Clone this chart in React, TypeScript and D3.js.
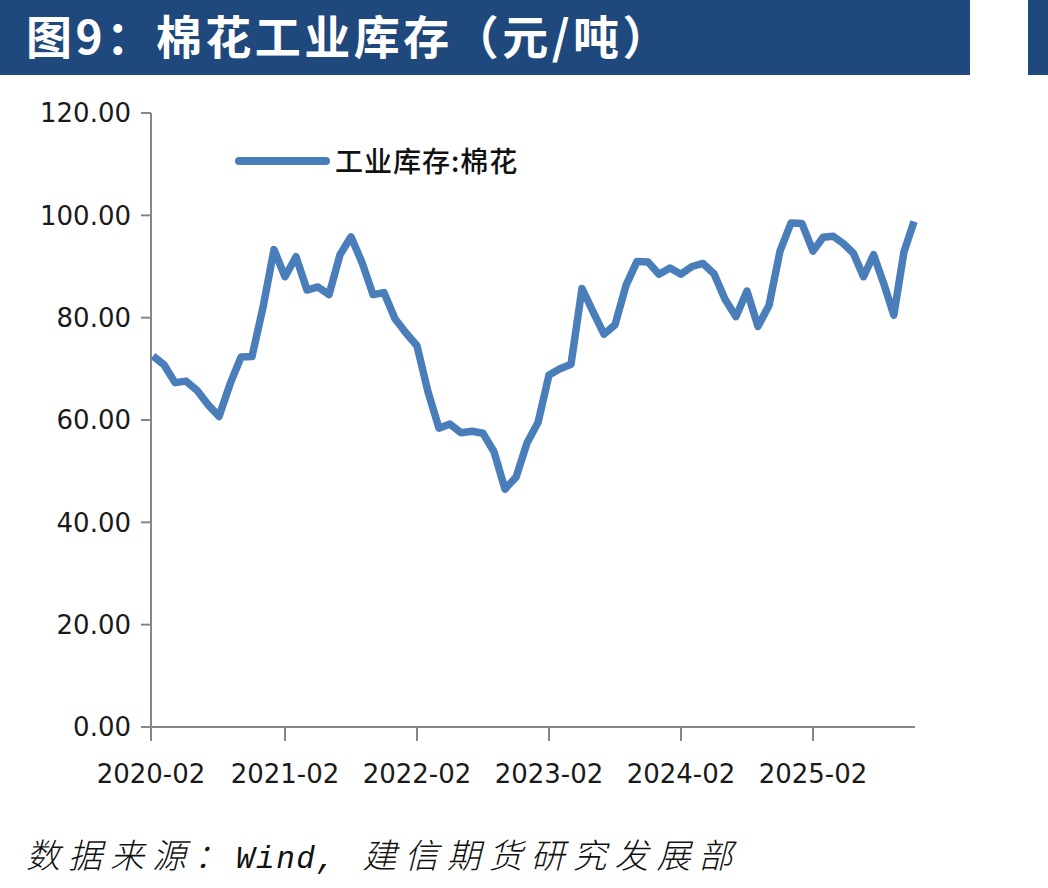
import React, { useEffect } from "react";
import * as d3 from "d3";

// Monthly observations, 2020-02 .. 2025-12
const months: string[] = [
  "2020-02","2020-03","2020-04","2020-05","2020-06","2020-07","2020-08","2020-09","2020-10","2020-11","2020-12",
  "2021-01","2021-02","2021-03","2021-04","2021-05","2021-06","2021-07","2021-08","2021-09","2021-10","2021-11","2021-12",
  "2022-01","2022-02","2022-03","2022-04","2022-05","2022-06","2022-07","2022-08","2022-09","2022-10","2022-11","2022-12",
  "2023-01","2023-02","2023-03","2023-04","2023-05","2023-06","2023-07","2023-08","2023-09","2023-10","2023-11","2023-12",
  "2024-01","2024-02","2024-03","2024-04","2024-05","2024-06","2024-07","2024-08","2024-09","2024-10","2024-11","2024-12",
  "2025-01","2025-02","2025-03","2025-04","2025-05","2025-06","2025-07","2025-08","2025-09","2025-10","2025-11","2025-12",
];

const inventory: number[] = [
  72.5, 70.8, 67.3, 67.6, 65.8, 63.0, 60.7, 67.0, 72.3, 72.4, 82.0,
  93.3, 88.0, 91.9, 85.4, 86.0, 84.5, 92.3, 95.8, 90.8, 84.5, 84.9, 79.8,
  77.0, 74.5, 65.5, 58.4, 59.2, 57.5, 57.8, 57.4, 53.8, 46.5, 48.8, 55.5,
  59.5, 68.8, 70.0, 70.9, 85.7, 81.2, 76.8, 78.6, 86.3, 91.0, 90.9, 88.5,
  89.7, 88.5, 90.0, 90.6, 88.6, 83.6, 80.2, 85.2, 78.3, 82.4,
  93.0, 98.5, 98.4, 93.0, 95.7, 95.9, 94.5, 92.6, 88.0, 92.3, 86.7, 80.5, 92.8, 98.8,
];

const yTicks: number[] = [0, 20, 40, 60, 80, 100, 120];
const xTickLabels: string[] = ["2020-02", "2021-02", "2022-02", "2023-02", "2024-02", "2025-02"];
const seriesName = "工业库存:棉花";
const title = "图9：棉花工业库存（元/吨）";

const HEADER = "#1F497D";
const LINE = "#4A7EBB";
const AXIS = "#868686";

export default function App() {
  useEffect(() => {
    document.body.style.margin = "0";
  }, []);

  const left = 151;
  const right = 914;
  const top = 113;
  const bottom = 727;

  // the last ten months are plotted slightly denser in the source chart
  const lastTick = months.indexOf("2025-02");
  const x = d3
    .scaleLinear()
    .domain([0, lastTick, months.length - 1])
    .range([153, 153 + lastTick * 11, right]);
  const y = d3.scaleLinear().domain([0, 120]).range([bottom, top]);

  const line = d3
    .line<number>()
    .x((_, i) => x(i))
    .y((d) => y(d))
    .curve(d3.curveLinear);

  const path = line(inventory) || "";

  return (
    <svg
      width={1048}
      height={888}
      style={{ position: "absolute", left: 0, top: 0, background: "#fff" }}
    >
      <rect x={0} y={0} width={1048} height={888} fill="#fff" />
      {/* header */}
      <rect x={0} y={0} width={970} height={75} fill={HEADER} />
      <rect x={1028} y={0} width={20} height={75} fill={HEADER} />
      <text
        x={26}
        y={54}
        fill="#fff"
        fontFamily="'Noto Sans CJK SC', sans-serif"
        fontWeight={700}
        fontSize={46}
        letterSpacing={3.5}
      >
        {title}
      </text>

      {/* y axis */}
      <line x1={left} x2={left} y1={top} y2={bottom} stroke={AXIS} strokeWidth={2} />
      {yTicks.map((t) => (
        <g key={t}>
          <line x1={left - 10} x2={left} y1={y(t)} y2={y(t)} stroke={AXIS} strokeWidth={2} />
          <text
            x={131}
            y={y(t)}
            dy="0.36em"
            textAnchor="end"
            fontFamily="'DejaVu Sans', sans-serif"
            fontSize={26}
            fill="#1a1a1a"
          >
            {t.toFixed(2)}
          </text>
        </g>
      ))}

      {/* x axis */}
      <line x1={left} x2={right + 1} y1={bottom} y2={bottom} stroke={AXIS} strokeWidth={2} />
      {xTickLabels.map((lab, k) => {
        const i = months.indexOf(lab);
        const xp = k === 0 ? left : x(i);
        return (
          <g key={lab}>
            <line x1={xp} x2={xp} y1={bottom} y2={bottom + 14} stroke={AXIS} strokeWidth={2} />
            <text
              x={xp}
              y={783}
              textAnchor="middle"
              fontFamily="'DejaVu Sans', sans-serif"
              fontSize={26}
              fill="#1a1a1a"
            >
              {lab}
            </text>
          </g>
        );
      })}

      {/* series */}
      <path d={path} fill="none" stroke={LINE} strokeWidth={7.5} strokeLinejoin="round" strokeLinecap="butt" />

      {/* legend */}
      <line x1={239} x2={326} y1={161} y2={161} stroke={LINE} strokeWidth={8} strokeLinecap="round" />
      <text
        x={335}
        y={162}
        dy="0.36em"
        fontFamily="'Noto Sans CJK SC', sans-serif"
        fontWeight={500}
        fontSize={28}
        letterSpacing={1}
        fill="#111"
      >
        {seriesName}
      </text>

      {/* source */}
      <text x={26} y={868} fill="#111" fontStyle="italic" fontSize={34}>
        <tspan fontFamily="'Noto Sans CJK SC', sans-serif" fontWeight={300} letterSpacing={8}>
          数据来源：
        </tspan>
        <tspan fontFamily="'Liberation Mono', monospace" fontSize={31} letterSpacing={1.5}>
          Wind,
        </tspan>
        <tspan dx={26} fontFamily="'Noto Sans CJK SC', sans-serif" fontWeight={300} letterSpacing={8}>
          建信期货研究发展部
        </tspan>
      </text>
    </svg>
  );
}
